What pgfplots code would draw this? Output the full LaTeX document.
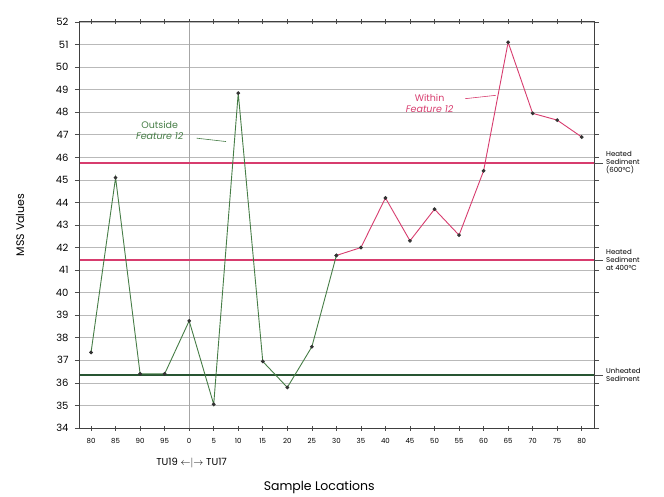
\documentclass[border=0pt]{standalone}
\usepackage{pgfplots}
\pgfplotsset{compat=1.18}
\usepackage{fontspec}
\setmainfont{Poppins}
\definecolor{outgreen}{RGB}{70,125,70}
\definecolor{darkgreen}{RGB}{40,85,50}
\definecolor{hotpink}{RGB}{215,60,110}
\definecolor{gridgray}{RGB}{185,185,185}

\begin{document}
\begin{tikzpicture}
\useasboundingbox (-80pt,-68pt) rectangle (584pt,428pt);
\begin{axis}[
    scale only axis,
    width=514pt, height=406pt,
    at={(0,0)}, anchor=south west,
    xmin=-0.45, xmax=20.5,
    ymin=34, ymax=52,
    xtick={0,...,20},
    xticklabels={80,85,90,95,0,5,10,15,20,25,30,35,40,45,50,55,60,65,70,75,80},
    ytick={34,...,52},
    ymajorgrids,
    grid style={gridgray, line width=0.6pt},
    axis line style={black!75, line width=1pt},
    tick style={black!70, line width=0.6pt},
    xtick align=center,
    ytick align=outside,
    major tick length=5pt,
    yticklabel style={font=\fontsize{10}{12}\selectfont, xshift=-3pt},
    xticklabel style={font=\fontsize{7}{8}\selectfont, yshift=-4pt},
    /pgf/number format/assume math mode=true,
    clip=false,
]
% vertical divider between TU19 and TU17
\draw[gray!70, line width=0.6pt] (axis cs:4,34) -- (axis cs:4,52);
% reference levels
\addplot[hotpink, line width=2.5pt, forget plot] coordinates {(-0.45,45.75) (20.5,45.75)};
\addplot[hotpink, line width=1.2pt, forget plot] coordinates {(-0.45,41.45) (20.5,41.45)};
\addplot[darkgreen, line width=1.6pt, forget plot] coordinates {(-0.45,36.35) (20.5,36.35)};
% outside feature 12
\addplot[outgreen, line width=0.9pt, mark=*, mark size=1.4pt,
    mark options={fill=black!80, draw=black!80}] coordinates {
    (0,37.35) (1,45.1) (2,36.4) (3,36.4) (4,38.75) (5,35.05) (6,48.85)
    (7,36.95) (8,35.8) (9,37.6) (10,41.65)
};
% within feature 12
\addplot[hotpink, line width=0.9pt, mark=*, mark size=1.4pt,
    mark options={fill=black!80, draw=black!80}] coordinates {
    (10,41.65) (11,42.0) (12,44.2) (13,42.3) (14,43.7) (15,42.55)
    (16,45.4) (17,51.1) (18,47.95) (19,47.65) (20,46.9)
};
% annotations
\node[outgreen, align=center, font=\fontsize{9.5}{10.5}\selectfont] at (axis cs:2.8,47.2) {Outside\\\textit{Feature 12}};
\draw[outgreen, line width=0.6pt] (axis cs:4.3,46.85) -- (axis cs:5.5,46.7);
\node[hotpink, align=center, font=\fontsize{9.5}{10.5}\selectfont] at (axis cs:13.8,48.4) {Within\\\textit{Feature 12}};
\draw[hotpink, line width=0.6pt] (axis cs:15.25,48.6) -- (axis cs:16.5,48.75);
% right side labels
\draw[black!70, line width=0.6pt] (axis cs:20.5,45.75) -- ([xshift=9pt]axis cs:20.5,45.75);
\node[anchor=west, align=left, font=\fontsize{7}{8}\selectfont, inner sep=0pt]
    at ([xshift=12pt]axis cs:20.5,45.75) {Heated\\Sediment\\(600°C)};
\draw[black!70, line width=0.6pt] (axis cs:20.5,41.45) -- ([xshift=9pt]axis cs:20.5,41.45);
\node[anchor=west, align=left, font=\fontsize{7}{8}\selectfont, inner sep=0pt]
    at ([xshift=12pt]axis cs:20.5,41.45) {Heated\\Sediment\\at 400°C};
\draw[black!70, line width=0.6pt] (axis cs:20.5,36.35) -- ([xshift=9pt]axis cs:20.5,36.35);
\node[anchor=west, align=left, font=\fontsize{7}{8}\selectfont, inner sep=0pt]
    at ([xshift=12pt]axis cs:20.5,36.35) {Unheated\\Sediment};
% bottom labels
\node[font=\fontsize{10}{12}\selectfont] at ([yshift=-35pt]axis cs:4.1,34)
    {TU19 $\leftarrow\mid\rightarrow$ TU17};
\node[font=\fontsize{12.5}{14}\selectfont] at ([yshift=-59pt]axis cs:9.3,34) {Sample Locations};
\node[font=\fontsize{11}{13}\selectfont, rotate=90] at ([xshift=-60pt]axis cs:-0.45,43) {MSS Values};
\end{axis}
\end{tikzpicture}
\end{document}
